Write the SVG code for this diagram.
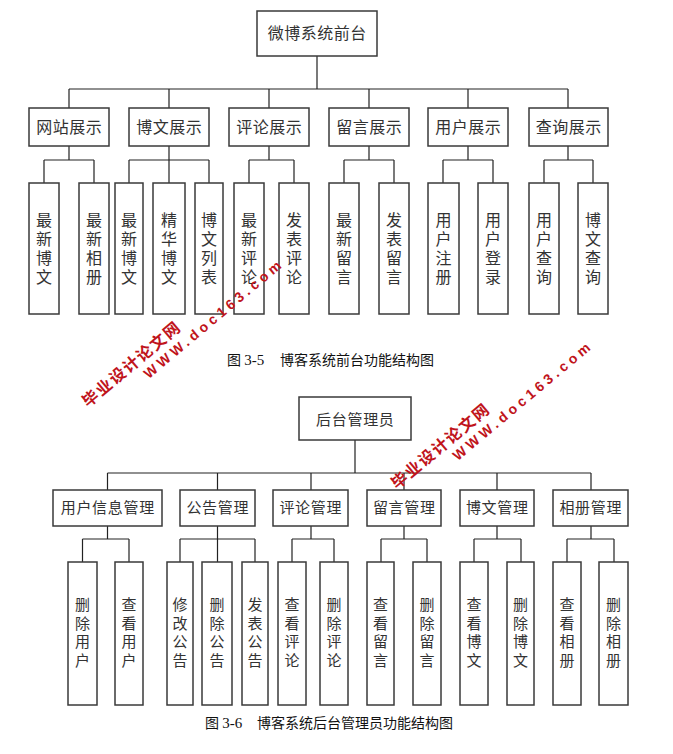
<svg xmlns="http://www.w3.org/2000/svg" width="673" height="754" viewBox="0 0 673 754">
<style>
.box{fill:#fff;stroke:#3a3a3a;stroke-width:1.5}
.ln{stroke:#222;stroke-width:1.2;fill:none}
.t{font-family:"Noto Sans CJK SC",sans-serif;fill:#333;text-anchor:middle}
.t16{font-size:16px;letter-spacing:0.5px}
.t15{font-size:15px;letter-spacing:0.7px}
.v16{font-family:"Noto Sans CJK SC",sans-serif;fill:#333;text-anchor:middle;font-size:16px;letter-spacing:3px;writing-mode:vertical-rl}
.v15{font-family:"Noto Sans CJK SC",sans-serif;fill:#333;text-anchor:middle;font-size:15px;letter-spacing:3.5px;writing-mode:vertical-rl}
.cap{font-family:"Noto Sans CJK SC",sans-serif;font-size:14px;fill:#111}
.num{font-family:"Liberation Serif",serif}
.wm{font-family:"Liberation Sans","Noto Sans CJK SC",sans-serif;font-weight:bold;fill:#c0141b}
</style>
<rect width="673" height="754" fill="#fff"/>

<g id="connectors">
<path class="ln" d="M317,56V89M69,89H568M69,89V108M169,89V108M269,89V108M369,89V108M468,89V108M568,89V108"/>
<path class="ln" d="M69,146V160M44,160H94M44,160V183M94,160V183"/>
<path class="ln" d="M169,146V183M129,160H209M129,160V183M209,160V183"/>
<path class="ln" d="M269,146V160M249,160H294M249,160V183M294,160V183"/>
<path class="ln" d="M369,146V160M344,160H394M344,160V183M394,160V183"/>
<path class="ln" d="M468,146V160M443,160H493M443,160V183M493,160V183"/>
<path class="ln" d="M568,146V160M544,160H593M544,160V183M593,160V183"/>
<path class="ln" d="M355,440V473M107.5,473H591M107.5,473V490M217.5,473V490M311,473V490M404,473V490M497,473V490M591,473V490"/>
<path class="ln" d="M107.5,526V539M82.5,539H129M82.5,539V562M129,539V562"/>
<path class="ln" d="M217.5,526V562M180,539H255M180,539V562M255,539V562"/>
<path class="ln" d="M311,526V539M292,539H334M292,539V562M334,539V562"/>
<path class="ln" d="M404,526V539M381,539H427M381,539V562M427,539V562"/>
<path class="ln" d="M497,526V539M474,539H521M474,539V562M521,539V562"/>
<path class="ln" d="M591,526V539M567,539H614M567,539V562M614,539V562"/>
</g>

<g id="root1"><rect class="box" x="257" y="11" width="120" height="45"/><text class="t t16" x="317.3" y="39">微博系统前台</text></g>

<g id="m1"><rect class="box" x="29" y="108" width="80" height="38"/><text class="t t16" x="69.3" y="133">网站展示</text></g>
<g id="m2"><rect class="box" x="129" y="108" width="80" height="38"/><text class="t t16" x="169.3" y="133">博文展示</text></g>
<g id="m3"><rect class="box" x="229" y="108" width="80" height="38"/><text class="t t16" x="269.3" y="133">评论展示</text></g>
<g id="m4"><rect class="box" x="329" y="108" width="80" height="38"/><text class="t t16" x="369.3" y="133">留言展示</text></g>
<g id="m5"><rect class="box" x="428" y="108" width="80" height="38"/><text class="t t16" x="468.3" y="133">用户展示</text></g>
<g id="m6"><rect class="box" x="529" y="108" width="79" height="38"/><text class="t t16" x="568.8" y="133">查询展示</text></g>

<g id="l1"><rect class="box" x="29" y="183" width="30" height="131"/><text class="v16" x="44" y="250">最新博文</text></g>
<g id="l2"><rect class="box" x="79" y="183" width="30" height="131"/><text class="v16" x="94" y="250">最新相册</text></g>
<g id="l3"><rect class="box" x="115" y="183" width="28" height="131"/><text class="v16" x="129" y="250">最新博文</text></g>
<g id="l4"><rect class="box" x="153" y="183" width="32" height="131"/><text class="v16" x="169" y="250">精华博文</text></g>
<g id="l5"><rect class="box" x="195" y="183" width="28" height="131"/><text class="v16" x="209" y="250">博文列表</text></g>
<g id="l6"><rect class="box" x="234" y="183" width="30" height="131"/><text class="v16" x="249" y="250">最新评论</text></g>
<g id="l7"><rect class="box" x="279" y="183" width="30" height="131"/><text class="v16" x="294" y="250">发表评论</text></g>
<g id="l8"><rect class="box" x="329" y="183" width="30" height="131"/><text class="v16" x="344" y="250">最新留言</text></g>
<g id="l9"><rect class="box" x="379" y="183" width="30" height="131"/><text class="v16" x="394" y="250">发表留言</text></g>
<g id="l10"><rect class="box" x="428" y="183" width="31" height="131"/><text class="v16" x="443.5" y="250">用户注册</text></g>
<g id="l11"><rect class="box" x="478" y="183" width="30" height="131"/><text class="v16" x="493" y="250">用户登录</text></g>
<g id="l12"><rect class="box" x="529" y="183" width="30" height="131"/><text class="v16" x="544" y="250">用户查询</text></g>
<g id="l13"><rect class="box" x="578" y="183" width="30" height="131"/><text class="v16" x="593" y="250">博文查询</text></g>

<text id="cap1" class="cap" x="227" y="365">图 <tspan class="num" font-size="15">3-5</tspan><tspan x="280">博客系统前台功能结构图</tspan></text>

<g id="root2"><rect class="box" x="299" y="397" width="112" height="43"/><text class="t t15" x="355.3" y="424.5">后台管理员</text></g>

<g id="n1"><rect class="box" x="53" y="490" width="109" height="36"/><text class="t t15" x="107.8" y="512.5">用户信息管理</text></g>
<g id="n2"><rect class="box" x="180" y="490" width="75" height="36"/><text class="t t15" x="217.8" y="512.5">公告管理</text></g>
<g id="n3"><rect class="box" x="273" y="490" width="75" height="36"/><text class="t t15" x="310.8" y="512.5">评论管理</text></g>
<g id="n4"><rect class="box" x="367" y="490" width="74" height="36"/><text class="t t15" x="404.3" y="512.5">留言管理</text></g>
<g id="n5"><rect class="box" x="460" y="490" width="74" height="36"/><text class="t t15" x="497.3" y="512.5">博文管理</text></g>
<g id="n6"><rect class="box" x="553" y="490" width="75" height="36"/><text class="t t15" x="590.8" y="512.5">相册管理</text></g>

<g id="b1"><rect class="box" x="68" y="562" width="29" height="143"/><text class="v15" x="82.5" y="634">删除用户</text></g>
<g id="b2"><rect class="box" x="115" y="562" width="28" height="143"/><text class="v15" x="129" y="634">查看用户</text></g>
<g id="b3"><rect class="box" x="167" y="562" width="26" height="143"/><text class="v15" x="180" y="634">修改公告</text></g>
<g id="b4"><rect class="box" x="202" y="562" width="30" height="143"/><text class="v15" x="217" y="634">删除公告</text></g>
<g id="b5"><rect class="box" x="242" y="562" width="26" height="143"/><text class="v15" x="255" y="634">发表公告</text></g>
<g id="b6"><rect class="box" x="278" y="562" width="28" height="143"/><text class="v15" x="292" y="634">查看评论</text></g>
<g id="b7"><rect class="box" x="320" y="562" width="28" height="143"/><text class="v15" x="334" y="634">删除评论</text></g>
<g id="b8"><rect class="box" x="367" y="562" width="27" height="143"/><text class="v15" x="380.5" y="634">查看留言</text></g>
<g id="b9"><rect class="box" x="413" y="562" width="28" height="143"/><text class="v15" x="427" y="634">删除留言</text></g>
<g id="b10"><rect class="box" x="460" y="562" width="28" height="143"/><text class="v15" x="474" y="634">查看博文</text></g>
<g id="b11"><rect class="box" x="507" y="562" width="27" height="143"/><text class="v15" x="520.5" y="634">删除博文</text></g>
<g id="b12"><rect class="box" x="553" y="562" width="28" height="143"/><text class="v15" x="567" y="634">查看相册</text></g>
<g id="b13"><rect class="box" x="599" y="562" width="29" height="143"/><text class="v15" x="613.5" y="634">删除相册</text></g>

<text id="cap2" class="cap" x="205" y="728">图 <tspan class="num" font-size="15">3-6</tspan><tspan x="257">博客系统后台管理员功能结构图</tspan></text>

<g id="watermark1" transform="translate(88,408) rotate(-40)">
<text class="wm" font-size="16" letter-spacing="1.6" x="0" y="0">毕业设计论文网</text>
<text class="wm" font-size="14" letter-spacing="3.9" x="65" y="17">WWW.doc163.com</text>
</g>
<g id="watermark2" transform="translate(397,490) rotate(-40)">
<text class="wm" font-size="16" letter-spacing="1.6" x="0" y="0">毕业设计论文网</text>
<text class="wm" font-size="14" letter-spacing="3.9" x="65" y="17">WWW.doc163.com</text>
</g>
</svg>
